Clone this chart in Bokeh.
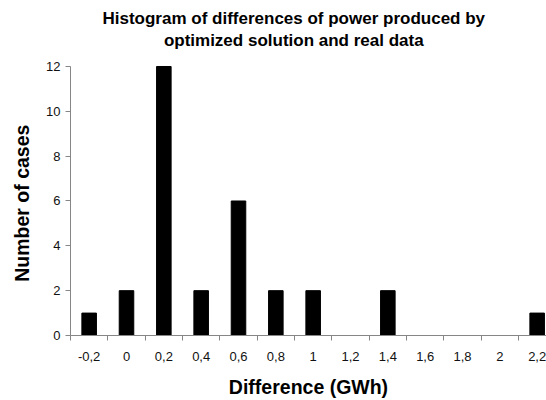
from bokeh.plotting import figure
from bokeh.models import ColumnDataSource, Range1d, FixedTicker, Label
from bokeh.embed import file_html
from bokeh.resources import INLINE

# Data
bins = ["-0,2", "0", "0,2", "0,4", "0,6", "0,8", "1", "1,2", "1,4", "1,6", "1,8", "2", "2,2"]
cases = [1, 2, 12, 2, 6, 2, 2, 0, 2, 0, 0, 0, 1]
y_ticks = [0, 2, 4, 6, 8, 10, 12]
title_lines = ["Histogram of differences of power produced by", "optimized solution and real data"]
y_label = "Number of cases"
x_label = "Difference (GWh)"

idx = list(range(len(bins)))
src = ColumnDataSource(dict(x=idx, top=cases, label=bins))

# frame includes the title area; the y axis itself is bounded to 0..12
p = figure(frame_width=476, frame_height=335, output_backend="svg", toolbar_location=None,
           x_range=Range1d(-0.5, 12.25), y_range=Range1d(0, 14.944),
           min_border_left=70, min_border_right=0, min_border_top=0, min_border_bottom=64)

p.vbar(x="x", top="top", width=0.39, source=src, fill_color="black", line_color="black")

for txt, ty in zip(title_lines, [14.128, 13.16]):
    p.add_layout(Label(x=5.48, y=ty, text=txt, text_align="center", text_baseline="alphabetic",
                       text_font="Liberation Sans", text_font_size="17px", text_font_style="bold",
                       text_color="black"))

p.xgrid.visible = False
p.ygrid.visible = False
p.outline_line_color = None

axis_col = "#868686"
xa = p.xaxis[0]
xa.ticker = FixedTicker(ticks=idx, minor_ticks=[i - 0.5 for i in idx] + [idx[-1] + 0.5])
xa.major_label_overrides = {i: b for i, b in zip(idx, bins)}
xa.major_tick_line_color = None
xa.minor_tick_line_color = axis_col
xa.minor_tick_out = 5
xa.minor_tick_in = 0
xa.axis_line_color = axis_col
xa.major_label_standoff = 10
xa.axis_label = x_label
xa.axis_label_standoff = 12

ya = p.yaxis[0]
ya.bounds = (0, 12)
ya.ticker = FixedTicker(ticks=y_ticks)
ya.minor_tick_line_color = None
ya.major_tick_line_color = axis_col
ya.major_tick_out = 5
ya.major_tick_in = 0
ya.axis_line_color = axis_col
ya.major_label_standoff = 5
# trailing no-break spaces keep the label centred on the 0..12 part of the axis
ya.axis_label = y_label + "\u00a0" * 13
ya.axis_label_standoff = 10

for ax in (xa, ya):
    ax.major_label_text_font = "Liberation Sans"
    ax.major_label_text_font_size = "13px"
    ax.major_label_text_color = "#111111"
    ax.axis_label_text_font = "Liberation Sans"
    ax.axis_label_text_font_size = "19.5px"
    ax.axis_label_text_font_style = "bold"
    ax.axis_label_text_color = "black"

open("out.html", "w").write(file_html(p, INLINE))
